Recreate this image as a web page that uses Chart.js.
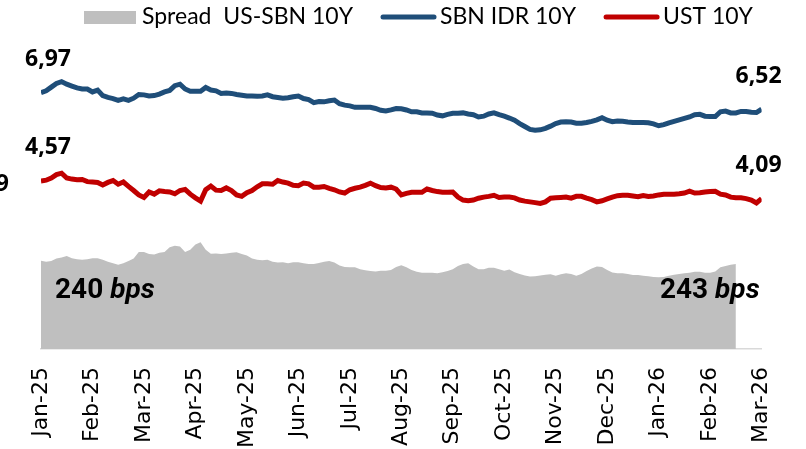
<!DOCTYPE html>
<html>
<head>
<meta charset="utf-8">
<script src="https://cdn.jsdelivr.net/npm/chart.js@4.4.1/dist/chart.umd.min.js"></script>
<style>
  html, body { margin: 0; padding: 0; background: #fff; }
  #wrap { width: 806px; height: 449px; }
</style>
</head>
<body>
<div id="wrap"><canvas id="myChart"></canvas></div>
<script>
const months = ['Jan-25', 'Feb-25', 'Mar-25', 'Apr-25', 'May-25', 'Jun-25', 'Jul-25', 'Aug-25',
  'Sep-25', 'Oct-25', 'Nov-25', 'Dec-25', 'Jan-26', 'Feb-26', 'Mar-26'];

// one value every 0.1 month
const step = 0.1;

const sbn = [
  6.97, 7.02, 7.12, 7.22, 7.27, 7.20, 7.15, 7.10, 7.07, 7.07,
  6.99, 7.04, 6.89, 6.84, 6.81, 6.76, 6.80, 6.76, 6.82, 6.92,
  6.91, 6.88, 6.89, 6.93, 6.99, 7.03, 7.16, 7.20, 7.07, 7.01,
  7.01, 7.01, 7.11, 7.04, 7.02, 6.95, 6.96, 6.95, 6.92, 6.90,
  6.88, 6.88, 6.87, 6.88, 6.91, 6.86, 6.84, 6.82, 6.83, 6.86,
  6.88, 6.81, 6.78, 6.70, 6.73, 6.72, 6.75, 6.77, 6.67, 6.63,
  6.61, 6.57, 6.57, 6.57, 6.57, 6.54, 6.49, 6.47, 6.50, 6.54,
  6.53, 6.50, 6.45, 6.45, 6.42, 6.42, 6.41, 6.36, 6.34, 6.38,
  6.41, 6.41, 6.42, 6.39, 6.37, 6.31, 6.33, 6.39, 6.42, 6.37,
  6.33, 6.28, 6.22, 6.13, 6.05, 5.97, 5.95, 5.96, 6.00, 6.06,
  6.13, 6.17, 6.18, 6.17, 6.14, 6.14, 6.16, 6.19, 6.23, 6.29,
  6.22, 6.18, 6.20, 6.19, 6.17, 6.16, 6.16, 6.16, 6.15, 6.12,
  6.07, 6.10, 6.15, 6.19, 6.23, 6.27, 6.31, 6.37, 6.38, 6.33,
  6.32, 6.32, 6.45, 6.47, 6.42, 6.42, 6.46, 6.46, 6.44, 6.43, 6.52
];

const ust = [
  4.57, 4.59, 4.65, 4.74, 4.78, 4.65, 4.62, 4.60, 4.61, 4.55,
  4.54, 4.53, 4.46, 4.53, 4.58, 4.48, 4.54, 4.42, 4.31, 4.19,
  4.12, 4.27, 4.21, 4.30, 4.28, 4.27, 4.22, 4.31, 4.34, 4.21,
  4.11, 4.02, 4.33, 4.43, 4.32, 4.31, 4.38, 4.31, 4.19, 4.15,
  4.25, 4.31, 4.41, 4.49, 4.49, 4.48, 4.58, 4.54, 4.51, 4.45,
  4.44, 4.51, 4.49, 4.40, 4.40, 4.42, 4.37, 4.33, 4.27, 4.24,
  4.33, 4.37, 4.40, 4.45, 4.51, 4.44, 4.39, 4.38, 4.40, 4.35,
  4.19, 4.23, 4.26, 4.26, 4.26, 4.35, 4.31, 4.28, 4.26, 4.26,
  4.27, 4.13, 4.05, 4.03, 4.05, 4.10, 4.13, 4.15, 4.18, 4.12,
  4.13, 4.13, 4.11, 4.05, 4.02, 4.00, 3.98, 3.96, 4.00, 4.10,
  4.11, 4.12, 4.13, 4.10, 4.15, 4.15, 4.10, 4.06, 4.00, 4.03,
  4.08, 4.13, 4.17, 4.18, 4.18, 4.16, 4.14, 4.17, 4.15, 4.16,
  4.19, 4.21, 4.21, 4.21, 4.22, 4.24, 4.29, 4.24, 4.25, 4.27,
  4.28, 4.29, 4.21, 4.19, 4.13, 4.11, 4.11, 4.09, 4.05, 3.97, 4.09
];

// spread in bps
const spread = [
  240, 237, 239, 246, 249, 253, 247, 244, 243, 244,
  247, 247, 243, 237, 233, 229, 233, 239, 246, 264,
  264, 258, 257, 262, 264, 277, 281, 279, 264, 270,
  284, 290, 270, 259, 260, 258, 260, 262, 263, 258,
  254, 246, 243, 241, 243, 237, 235, 236, 233, 236,
  236, 233, 231, 231, 234, 237, 239, 235, 227, 223,
  222, 222, 217, 214, 212, 211, 213, 213, 215, 223,
  228, 222, 215, 210, 207, 207, 207, 206, 209, 212,
  217, 226, 231, 233, 224, 217, 217, 221, 221, 217,
  213, 216, 209, 204, 200, 197, 198, 200, 202, 203,
  199, 203, 206, 204, 199, 204, 212, 219, 224, 223,
  215, 208, 206, 206, 204, 201, 201, 199, 198, 196,
  195, 196, 199, 202, 204, 206, 207, 210, 210, 207,
  207, 211, 222, 226, 229, 231
];

const spreadNotes = ['240', '243'];

const toPoints = arr => arr.map((v, i) => ({ x: i * step, y: v }));
const fmt = v => v.toFixed(2).replace('.', ',');

const decor = {
  id: 'decor',
  afterDatasetsDraw(chart) {
    const { ctx, chartArea, scales } = chart;
    const xs = scales.x, ys = scales.y;
    ctx.save();

    // first / last values
    ctx.font = 'bold 23px "Open Sans"';
    ctx.fillStyle = '#000';
    ctx.textBaseline = 'middle';
    [sbn, ust].forEach(arr => {
      const last = arr.length - 1;
      ctx.textAlign = 'left';
      ctx.fillText(fmt(arr[0]), xs.getPixelForValue(0) - 16, ys.getPixelForValue(arr[0]) - 33);
      ctx.textAlign = 'right';
      ctx.fillText(fmt(arr[last]), xs.getPixelForValue(last * step) + 20, ys.getPixelForValue(arr[last]) - 33);
    });
    ctx.textAlign = 'right';
    ctx.fillText('9', 9, 184);

    // spread notes
    const baseY = chartArea.bottom - 51;
    const note = (txt, x, align) => {
      ctx.font = 'bold 28px Roboto';
      const w1 = ctx.measureText(txt + ' ').width;
      ctx.font = 'italic bold 28px Roboto';
      const w2 = ctx.measureText('bps').width;
      const x0 = align === 'left' ? x : x - w1 - w2;
      ctx.textAlign = 'left';
      ctx.textBaseline = 'alphabetic';
      ctx.font = 'bold 28px Roboto';
      ctx.fillText(txt, x0, baseY);
      ctx.font = 'italic bold 28px Roboto';
      ctx.fillText('bps', x0 + w1, baseY);
    };
    note(spreadNotes[0], chartArea.left + 14, 'left');
    note(spreadNotes[1], chartArea.right - 2, 'right');

    // legend
    ctx.font = '23px Lato';
    ctx.textBaseline = 'middle';
    ctx.textAlign = 'left';
    let lx = 84;
    const ly = 17;
    [2, 0, 1].forEach(idx => {
      const ds = chart.data.datasets[idx];
      if (ds.fill) {
        ctx.fillStyle = ds.backgroundColor;
        ctx.fillRect(lx, ly - 6, 52, 13);
        lx += 58;
      } else {
        ctx.strokeStyle = ds.borderColor;
        ctx.lineWidth = 5;
        ctx.lineCap = 'round';
        ctx.beginPath();
        ctx.moveTo(lx + 2, ly);
        ctx.lineTo(lx + 53, ly);
        ctx.stroke();
        lx += 59;
      }
      ctx.fillStyle = '#000';
      ctx.fillText(ds.label, lx, ly);
      lx += ctx.measureText(ds.label).width + 28;
    });
    ctx.restore();
  }
};

new Chart(document.getElementById('myChart'), {
  type: 'line',
  data: {
    datasets: [
      {
        label: 'SBN IDR 10Y',
        data: toPoints(sbn),
        borderColor: '#1f4e79',
        borderWidth: 5,
        pointRadius: 0,
        yAxisID: 'y',
        order: 1,
      },
      {
        label: 'UST 10Y',
        data: toPoints(ust),
        borderColor: '#c00000',
        borderWidth: 5,
        pointRadius: 0,
        yAxisID: 'y',
        order: 2,
      },
      {
        label: 'Spread  US-SBN 10Y',
        data: toPoints(spread),
        borderColor: 'rgba(0,0,0,0)',
        backgroundColor: '#bfbfbf',
        borderWidth: 0,
        pointRadius: 0,
        fill: 'origin',
        yAxisID: 'bps',
        order: 3,
      },
    ],
  },
  options: {
    responsive: true,
    maintainAspectRatio: false,
    animation: false,
    layout: { padding: { top: 18, left: 41, right: 39, bottom: 0 } },
    plugins: { legend: { display: false }, tooltip: { enabled: false } },
    scales: {
      x: {
        type: 'linear',
        min: 0,
        max: 14,
        afterFit: s => { s.height = 100; },
        grid: { display: false, drawTicks: false },
        border: { display: true, color: '#d9d9d9', width: 1.5 },
        ticks: {
          stepSize: 1,
          autoSkip: false,
          minRotation: 90,
          maxRotation: 90,
          padding: 18,
          color: '#000',
          font: { family: 'DejaVu Sans', size: 22 },
          callback: v => months[v],
        },
      },
      y: { display: false, min: 0, max: 9 },
      bps: { display: false, min: 0, max: 900 },
    },
  },
  plugins: [decor],
});
</script>
</body>
</html>
